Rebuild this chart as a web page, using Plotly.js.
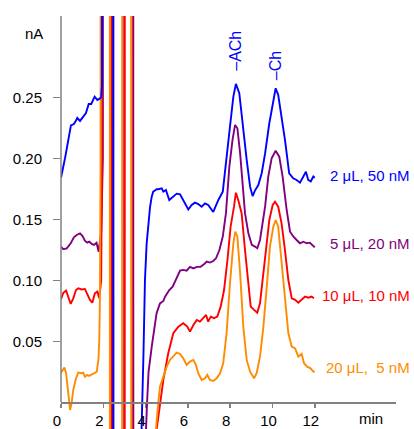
<!DOCTYPE html>
<html>
<head>
<meta charset="utf-8">
<script src="https://cdn.plot.ly/plotly-3.0.1.min.js"></script>
<style>
html,body{margin:0;padding:0;background:#fff;}
#chart{width:414px;height:429px;}
</style>
</head>
<body>
<div id="chart"></div>
<script>
// ---------- data (time in min, current in nA) ----------
const seriesNames = ["2 μL, 50 nM", "5 μL, 20 nM", "10 μL, 10 nM", "20 μL,\u00a0 5 nM"];
const seriesColors = ["#0000ff", "#800080", "#ff0000", "#ff8c00"];

const tBlue = [0, 0.19, 0.47, 0.61, 0.71, 0.77, 0.9, 1.02, 1.18, 1.31, 1.43, 1.59, 1.72, 1.81, 1.9, 1.94, 1.96, 2.47, 2.49, 3.79, 3.81, 3.9, 3.97, 4.05, 4.13, 4.21, 4.29, 4.36, 4.44, 4.52, 4.6, 4.76, 4.84, 4.96, 5.12, 5.28, 5.47, 5.63, 5.78, 6.02, 6.18, 6.33, 6.49, 6.65, 6.81, 6.96, 7.2, 7.44, 7.65, 7.83, 7.99, 8.15, 8.27, 8.43, 8.59, 8.78, 8.94, 9.06, 9.17, 9.33, 9.49, 9.65, 9.85, 10.04, 10.15, 10.27, 10.43, 10.59, 10.79, 10.98, 11.14, 11.3, 11.46, 11.58, 11.69, 11.81, 11.93, 12.0];
const vBlue = [0.184, 0.20, 0.227, 0.228, 0.231, 0.233, 0.2306, 0.233, 0.237, 0.2445, 0.2445, 0.2505, 0.2478, 0.2486, 0.25, 0.26, 1.5, 1.5, -1.5, -1.5, -0.022, 0.04, 0.1, 0.13, 0.1467, 0.16, 0.1685, 0.1726, 0.1735, 0.1746, 0.1746, 0.1754, 0.1726, 0.174, 0.1658, 0.1685, 0.171, 0.1705, 0.1658, 0.158, 0.1617, 0.1636, 0.1625, 0.1603, 0.163, 0.1617, 0.156, 0.1658, 0.1726, 0.1986, 0.226, 0.2505, 0.261, 0.2533, 0.226, 0.1986, 0.1767, 0.169, 0.1735, 0.178, 0.1877, 0.204, 0.2287, 0.2478, 0.2574, 0.252, 0.234, 0.215, 0.1877, 0.1836, 0.1822, 0.18, 0.185, 0.189, 0.1822, 0.181, 0.185, 0.184];

const tPurple = [0, 0.11, 0.27, 0.46, 0.61, 0.74, 0.9, 1.02, 1.13, 1.24, 1.34, 1.45, 1.56, 1.68, 1.78, 1.9, 1.98, 2.0, 2.41, 2.43, 2.98, 3.0, 3.41, 3.43, 3.98, 4.02, 4.07, 4.14, 4.29, 4.52, 4.68, 4.84, 4.92, 5.12, 5.28, 5.47, 5.63, 5.78, 5.94, 6.1, 6.26, 6.42, 6.6, 6.76, 6.89, 7.04, 7.2, 7.33, 7.49, 7.65, 7.8, 7.96, 8.11, 8.23, 8.34, 8.47, 8.62, 8.7, 8.86, 9.02, 9.17, 9.28, 9.41, 9.54, 9.65, 9.8, 9.96, 10.15, 10.32, 10.48, 10.59, 10.67, 10.83, 10.99, 11.14, 11.3, 11.46, 11.62, 11.77, 11.93, 12.0];
const vPurple = [0.1276, 0.1254, 0.1262, 0.1303, 0.1352, 0.1371, 0.1385, 0.1363, 0.1325, 0.1308, 0.1316, 0.1298, 0.129, 0.1308, 0.1234, 0.14, 0.2, 1.5, 1.5, -1.5, -1.5, 1.5, 1.5, -1.5, -1.5, -0.022, 0.0, 0.025, 0.0456, 0.073, 0.081, 0.083, 0.0866, 0.092, 0.0948, 0.1016, 0.1079, 0.1085, 0.1079, 0.111, 0.1097, 0.111, 0.111, 0.1132, 0.1153, 0.1145, 0.1158, 0.118, 0.1248, 0.1358, 0.155, 0.1931, 0.215, 0.2273, 0.2246, 0.204, 0.171, 0.155, 0.1385, 0.129, 0.1276, 0.1262, 0.133, 0.149, 0.1603, 0.185, 0.2, 0.2062, 0.2013, 0.185, 0.1658, 0.1576, 0.1398, 0.1357, 0.133, 0.1303, 0.1316, 0.1303, 0.1308, 0.1276, 0.127];

const tRed = [0, 0.11, 0.24, 0.35, 0.46, 0.58, 0.71, 0.82, 0.98, 1.13, 1.24, 1.37, 1.48, 1.6, 1.72, 1.81, 1.9, 1.94, 1.96, 2.37, 2.39, 3.0, 3.02, 3.34, 3.36, 4.45, 4.52, 4.68, 4.84, 5.07, 5.31, 5.55, 5.78, 5.97, 6.1, 6.26, 6.42, 6.57, 6.7, 6.86, 6.96, 7.08, 7.24, 7.39, 7.55, 7.71, 7.87, 8.02, 8.18, 8.27, 8.38, 8.54, 8.7, 8.86, 8.97, 9.13, 9.28, 9.41, 9.54, 9.7, 9.85, 10.01, 10.12, 10.27, 10.43, 10.59, 10.75, 10.91, 11.07, 11.22, 11.38, 11.54, 11.7, 11.85, 11.96];
const vRed = [0.0844, 0.0898, 0.0915, 0.0866, 0.0806, 0.0852, 0.092, 0.0934, 0.0925, 0.0929, 0.0893, 0.0839, 0.0816, 0.0893, 0.0907, 0.0852, 0.1, 0.2, 1.5, 1.5, -1.5, -1.5, 1.5, 1.5, -1.5, -1.5, -0.0225, 0.0, 0.0183, 0.0402, 0.0566, 0.062, 0.0648, 0.062, 0.0579, 0.0633, 0.0675, 0.0661, 0.0689, 0.0716, 0.0661, 0.0702, 0.0689, 0.0702, 0.0784, 0.092, 0.1166, 0.1439, 0.1603, 0.1718, 0.1658, 0.155, 0.1248, 0.0948, 0.0784, 0.0757, 0.0734, 0.0811, 0.1002, 0.1276, 0.1494, 0.1617, 0.1644, 0.1603, 0.1467, 0.1248, 0.1002, 0.0852, 0.0839, 0.0816, 0.0838, 0.0866, 0.0857, 0.0866, 0.0852];

const tOrange = [0, 0.08, 0.16, 0.24, 0.32, 0.38, 0.43, 0.5, 0.58, 0.71, 0.82, 0.98, 1.05, 1.13, 1.24, 1.33, 1.45, 1.57, 1.69, 1.77, 1.81, 1.84, 1.87, 1.89, 2.30, 2.32, 2.88, 2.90, 3.31, 3.33, 4.3, 4.49, 4.6, 4.68, 4.84, 5.0, 5.15, 5.31, 5.47, 5.63, 5.78, 5.94, 6.1, 6.26, 6.38, 6.49, 6.65, 6.81, 6.92, 7.04, 7.2, 7.36, 7.52, 7.67, 7.83, 7.99, 8.15, 8.24, 8.34, 8.47, 8.62, 8.78, 8.94, 9.13, 9.25, 9.41, 9.57, 9.73, 9.88, 10.04, 10.15, 10.27, 10.43, 10.59, 10.75, 10.91, 11.07, 11.22, 11.38, 11.49, 11.64, 11.8, 11.93, 12.0];
const vOrange = [0.0243, 0.0265, 0.0284, 0.0238, 0.0101, -0.002, -0.0063, -0.001, 0.0101, 0.0197, 0.0243, 0.0238, 0.0243, 0.021, 0.0224, 0.0216, 0.0224, 0.0238, 0.0251, 0.0347, 0.0511, 0.084, 0.2, 1.5, 1.5, -1.5, -1.5, 1.5, 1.5, -1.5, -1.5, -0.022, 0.0, 0.0128, 0.021, 0.0292, 0.0347, 0.0374, 0.0407, 0.0396, 0.036, 0.0306, 0.0333, 0.0347, 0.0306, 0.0238, 0.0183, 0.0197, 0.0224, 0.0183, 0.0175, 0.0197, 0.0238, 0.032, 0.0566, 0.0975, 0.1303, 0.1398, 0.1357, 0.1057, 0.062, 0.0347, 0.0251, 0.0197, 0.0238, 0.0374, 0.062, 0.0948, 0.1276, 0.1439, 0.1494, 0.1439, 0.1166, 0.084, 0.0566, 0.0456, 0.0442, 0.0374, 0.0396, 0.032, 0.0292, 0.0278, 0.0251, 0.025];

const xTickVals = [0, 2, 4, 6, 8, 10, 12];
const xTickText = ["0", "2", "4", "6", "8", "10", "12"];
const yTickVals = [0.05, 0.10, 0.15, 0.20, 0.25];
const yTickText = ["0.05", "0.10", "0.15", "0.20", "0.25"];
const peakNames = ["ACh", "Ch"];
const peakTimes = [8.27, 10.15];

// ---------- figure ----------
const FONT = "Liberation Sans, Arial, Helvetica, sans-serif";
const AXC = "#808080";
const xs = [tBlue, tPurple, tRed, tOrange];
const ys = [vBlue, vPurple, vRed, vOrange];
const drawOrder = [1, 2, 3, 0]; // blue drawn last so its spike stays visible

const traces = drawOrder.map(i => ({
  type: "scatter", mode: "lines", x: xs[i], y: ys[i], name: seriesNames[i],
  line: {color: seriesColors[i], width: 1.9}, hoverinfo: "skip"
}));

const seriesLabelY = [0.1855, 0.1303, 0.0874, 0.0287];
const annotations = seriesNames.map((s, i) => ({
  text: s, xref: "paper", x: 1.048, xanchor: "right",
  yref: "y", y: seriesLabelY[i], yanchor: "middle", showarrow: false,
  font: {family: FONT, size: 15, color: seriesColors[i]}
}));
const peakLabelY = [0.270, 0.2625];
peakNames.forEach((p, i) => annotations.push({
  text: "\u2013" + p, xref: "x", x: peakTimes[i], yref: "y", y: peakLabelY[i],
  xanchor: "center", yanchor: "bottom", textangle: -90, showarrow: false,
  font: {family: FONT, size: 16, color: seriesColors[0]}
}));
annotations.push({text: "nA", xref: "paper", x: -0.08, xanchor: "center",
  yref: "y", y: 0.302, yanchor: "middle", showarrow: false,
  font: {family: FONT, size: 15, color: "#000"}});
annotations.push({text: "min", xref: "x", x: 14.65, xanchor: "center",
  yref: "paper", y: 0.0, yanchor: "bottom", showarrow: false,
  font: {family: FONT, size: 15, color: "#000"}});

const xPos = 0.0646;
const layout = {
  width: 414, height: 429,
  margin: {l: 61, r: 18, t: 16, b: 0, pad: 0},
  paper_bgcolor: "#fff", plot_bgcolor: "#fff",
  showlegend: false,
  font: {family: FONT, size: 15, color: "#000"},
  xaxis: {
    range: [0, 15.84], anchor: "free", position: xPos,
    showline: true, linecolor: AXC, linewidth: 1.5,
    ticks: "outside", ticklen: 4, tickwidth: 1.5, tickcolor: AXC,
    tickvals: xTickVals, ticktext: xTickText, ticklabelshift: -4,
    showgrid: false, zeroline: false, fixedrange: true
  },
  yaxis: {
    range: [-0.0219, 0.3166],
    showline: false,
    ticks: "outside", ticklen: 7, tickwidth: 1.5, tickcolor: AXC,
    tickvals: yTickVals, ticktext: yTickText, ticklabelstandoff: 8,
    showgrid: false, zeroline: false, fixedrange: true
  },
  shapes: [{type: "line", xref: "paper", x0: 0, x1: 0, yref: "paper", y0: xPos, y1: 1,
    line: {color: AXC, width: 1.5}, layer: "above"}],
  annotations: annotations
};

Plotly.newPlot("chart", traces, layout, {staticPlot: true, displayModeBar: false});
</script>
</body>
</html>
